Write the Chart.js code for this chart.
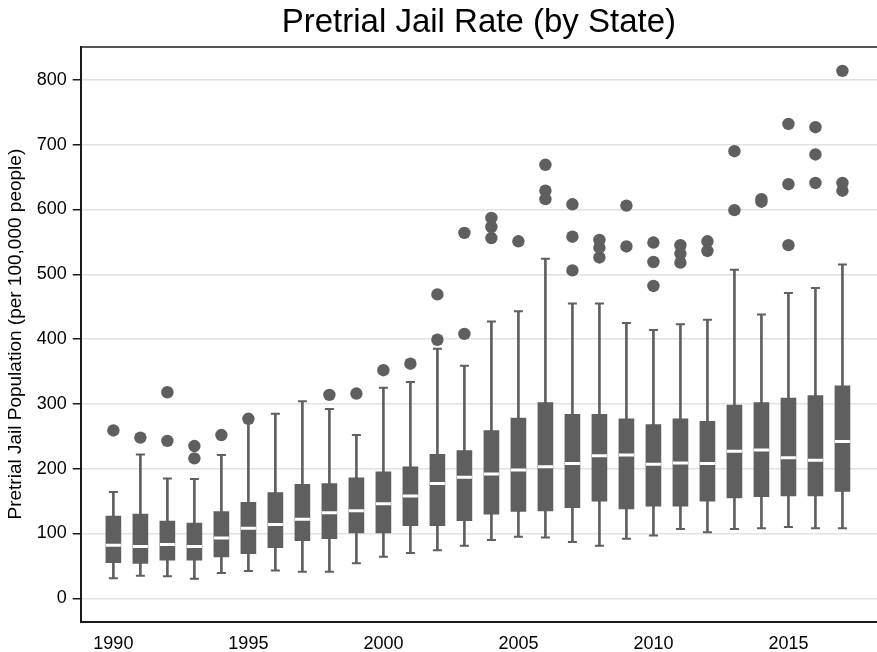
<!DOCTYPE html>
<html>
<head>
<meta charset="utf-8">
<title>Pretrial Jail Rate (by State)</title>
<script src="https://cdn.jsdelivr.net/npm/chart.js@4.4.1/dist/chart.umd.min.js"></script>
<style>
  html, body { margin: 0; padding: 0; background: #fff; overflow: hidden; }
  #wrap { width: 877px; height: 652px; position: relative; }
  #grafico { display: block; }
</style>
</head>
<body>
<div id="wrap"><canvas id="grafico"></canvas></div>
<script>
// caixas por ano: mínimo, Q1, mediana, Q3, máximo (bigodes) e pontos atípicos
const anos     = [1990,1991,1992,1993,1994,1995,1996,1997,1998,1999,2000,2001,2002,2003,2004,2005,2006,2007,2008,2009,2010,2011,2012,2013,2014,2015,2016,2017];
const minimo   = [31, 35, 34, 30, 39, 42, 43, 41, 41, 54, 64, 70, 74, 81, 90, 95, 94, 87, 81, 92, 97, 107, 102, 107, 108, 110, 108, 108];
const q1       = [55, 54, 59, 59, 64, 69, 78, 89, 92, 101, 101, 112, 112, 120, 130, 134, 135, 140, 150, 138, 142, 142, 150, 155, 157, 158, 158, 165];
const mediana  = [82, 80, 83, 80, 93, 108, 114, 122, 132, 135, 146, 158, 177, 187, 192, 198, 203, 208, 220, 221, 207, 209, 208, 227, 229, 217, 213, 242];
const q3       = [127, 130, 119, 116, 134, 148, 163, 176, 177, 186, 195, 203, 222, 228, 259, 278, 302, 284, 284, 277, 268, 277, 273, 298, 302, 309, 313, 328];
const maximo   = [164, 222, 185, 184, 221, 275, 285, 304, 292, 252, 325, 334, 385, 359, 427, 443, 524, 455, 455, 425, 414, 423, 430, 507, 438, 471, 479, 515];
const atipicos = [
  [259], [248], [318, 243], [235, 216], [252], [277], [], [], [314], [316],
  [352], [362], [469, 399], [564, 408], [587, 573, 556], [551], [669, 629, 616],
  [608, 558, 506], [553, 541, 526], [606, 543], [549, 519, 482], [545, 532, 518],
  [551, 536], [690, 599], [616, 612], [732, 639, 545], [727, 685, 641], [814, 641, 629]
];
const ticksX = [1990, 1995, 2000, 2005, 2010, 2015];
const ticksY = [0, 100, 200, 300, 400, 500, 600, 700, 800];

const CINZA = '#5f5f5f';
const FONTE = "'Liberation Sans', Arial, Helvetica, sans-serif";

const caixas   = anos.map((a, i) => ({ x: a, y: [q1[i], q3[i]] }));
const bigodes  = anos.map((a, i) => ({ x: a, y: [minimo[i], maximo[i]] }));
const pontas   = anos.flatMap((a, i) => [{ x: a, y: minimo[i] }, { x: a, y: maximo[i] }]);
const medianas = anos.map((a, i) => ({ x: a, y: mediana[i] }));
const pontos   = anos.flatMap((a, i) => atipicos[i].map(v => ({ x: a, y: v })));

// zera o recuo que o Chart.js reserva para os rótulos das pontas
const semRecuo = s => { s.paddingLeft = 0; s.paddingRight = 0; };

new Chart(document.getElementById('grafico'), {
  type: 'bar',
  data: {
    datasets: [
      { type: 'scatter', data: medianas, pointStyle: 'line', radius: 7.5, borderColor: '#fff', borderWidth: 3, order: 0 },
      { type: 'bar', data: caixas, backgroundColor: CINZA, barThickness: 15, grouped: false, order: 1 },
      { type: 'scatter', data: pontas, pointStyle: 'line', radius: 4.5, borderColor: CINZA, borderWidth: 2, order: 2 },
      { type: 'bar', data: bigodes, backgroundColor: CINZA, barThickness: 2, grouped: false, order: 3 },
      { type: 'scatter', data: pontos, pointStyle: 'circle', radius: 6.2, backgroundColor: CINZA, borderWidth: 0, order: 4 }
    ]
  },
  options: {
    responsive: true, maintainAspectRatio: false, animation: false, events: [],
    // sem autoPadding: os pontos não devem empurrar a área do gráfico
    layout: { padding: 0, autoPadding: false },
    plugins: {
      legend: { display: false },
      tooltip: { enabled: false },
      title: {
        display: true, fullSize: false, text: 'Pretrial Jail Rate (by State)', color: '#000',
        font: { family: FONTE, size: 33, weight: 'normal' }, padding: { top: 3, bottom: 4 }
      }
    },
    scales: {
      x: {
        type: 'linear', min: 1988.79, max: 2018.28, offset: false,
        afterBuildTicks: s => { s.ticks = ticksX.map(v => ({ value: v })); },
        afterFit: s => { s.height = 30.3; semRecuo(s); },
        ticks: { color: '#000', font: { family: FONTE, size: 18 }, padding: 12, callback: v => String(v), maxRotation: 0 },
        grid: { color: 'rgba(0,0,0,0)', drawTicks: false },
        border: { display: true, color: '#1a1a1a', width: 2 }
      },
      topo: {
        type: 'linear', position: 'top', min: 1988.79, max: 2018.28,
        afterFit: s => { s.height = 0; semRecuo(s); },
        ticks: { display: false },
        grid: { display: false, drawTicks: false },
        border: { display: true, color: '#555', width: 2 }
      },
      y: {
        min: -36.1, max: 851.4,
        afterBuildTicks: s => { s.ticks = ticksY.map(v => ({ value: v })); },
        afterFit: s => { s.width = 80.7; },
        ticks: { color: '#000', font: { family: FONTE, size: 18 }, padding: 6 },
        grid: { color: '#e2e2e2', lineWidth: 1.5, tickColor: '#1a1a1a', tickLength: 8 },
        border: { display: true, color: '#1a1a1a', width: 2 },
        title: {
          display: true, text: 'Pretrial Jail Population (per 100,000 people)', color: '#000',
          font: { family: FONTE, size: 19 }, padding: { top: 4, bottom: 0 }
        }
      }
    }
  }
});
</script>
</body>
</html>
